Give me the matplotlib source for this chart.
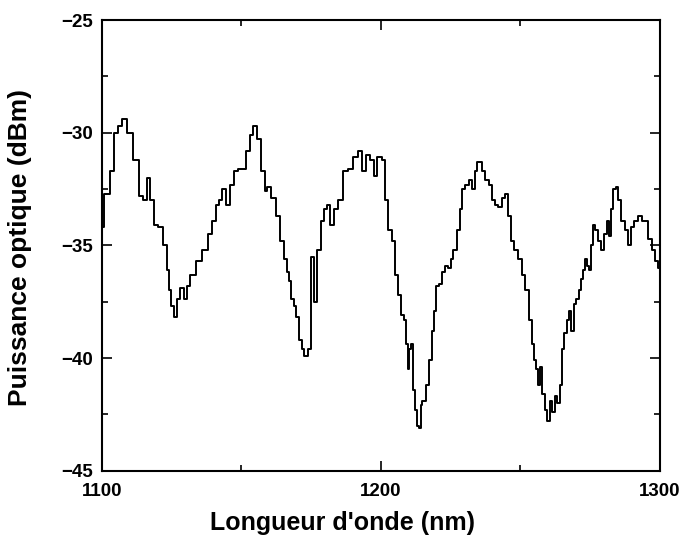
import matplotlib
matplotlib.use("Agg")
import matplotlib.pyplot as plt
from matplotlib.ticker import MultipleLocator

# Optical spectrum: wavelength (nm) and measured power (dBm)
wavelength_nm = [
    1100.0, 1101.9, 1103.7, 1105.1, 1106.6, 1108.0, 1110.1, 1112.3, 1114.4, 1115.5,
    1116.6, 1118.0, 1119.1, 1120.9, 1122.7, 1123.8, 1124.5, 1125.2, 1126.3, 1127.3,
    1128.8, 1129.9, 1130.9, 1132.7, 1134.5, 1137.0, 1138.8, 1140.2, 1141.6, 1142.4,
    1143.8, 1145.2, 1146.7, 1147.8, 1149.6, 1151.0, 1152.4, 1153.5, 1154.9, 1156.7,
    1157.8, 1158.9, 1159.9, 1161.4, 1163.2, 1164.6, 1165.7, 1166.8, 1167.5, 1168.2,
    1169.3, 1170.0, 1171.1, 1172.1, 1173.2, 1174.3, 1175.4, 1176.5, 1177.9, 1179.0,
    1180.0, 1181.1, 1182.5, 1184.0, 1185.4, 1187.2, 1189.0, 1190.8, 1192.6, 1193.7,
    1195.4, 1196.9, 1197.9, 1199.7, 1201.2, 1201.9, 1203.3, 1204.4, 1205.8, 1206.9,
    1207.9, 1208.7, 1209.4, 1209.8, 1210.5, 1211.2, 1211.9, 1212.6, 1213.4, 1214.1,
    1214.4, 1215.5, 1216.6, 1217.7, 1218.7, 1219.5, 1220.2, 1221.3, 1222.3, 1223.4,
    1224.8, 1225.5, 1226.6, 1227.7, 1228.8, 1229.5, 1230.9, 1232.0, 1233.1, 1234.2,
    1234.9, 1235.6, 1236.7, 1238.1, 1239.2, 1240.3, 1241.4, 1242.8, 1243.9, 1245.0,
    1246.1, 1247.2, 1248.6, 1250.0, 1251.2, 1252.5, 1253.6, 1254.7, 1255.4, 1256.1,
    1256.8, 1257.5, 1258.2, 1259.3, 1260.0, 1261.1, 1261.8, 1262.9, 1263.6, 1264.7,
    1265.4, 1266.1, 1267.1, 1267.9, 1268.6, 1269.6, 1270.7, 1271.4, 1272.1, 1272.8,
    1273.5, 1274.2, 1274.9, 1275.6, 1276.3, 1277.4, 1278.5, 1279.5, 1280.6, 1281.3,
    1282.0, 1282.7, 1283.8, 1284.5, 1285.6, 1286.7, 1288.1, 1289.2, 1290.3, 1291.4,
    1292.9, 1294.0, 1295.1, 1296.5, 1297.6, 1299.0, 1300.0,
]
power_dbm = [
    -34.2, -32.7, -31.7, -30.0, -29.7, -29.4, -30.0, -31.2, -32.8, -33.0,
    -32.0, -33.0, -34.1, -34.2, -35.0, -36.1, -37.0, -37.7, -38.2, -37.4,
    -36.9, -37.4, -36.8, -36.3, -35.7, -35.2, -34.5, -33.9, -33.2, -33.0,
    -32.5, -33.2, -32.3, -31.7, -31.6, -31.6, -30.8, -30.1, -29.7, -30.3,
    -31.7, -32.6, -32.4, -32.9, -33.7, -34.8, -35.6, -36.2, -36.6, -37.4,
    -37.7, -38.2, -39.2, -39.6, -39.9, -39.6, -35.5, -37.5, -35.2, -33.9,
    -33.4, -33.2, -34.1, -33.4, -33.0, -31.7, -31.6, -31.1, -30.8, -31.7,
    -31.0, -31.2, -31.9, -31.1, -31.2, -33.0, -34.3, -34.8, -36.3, -37.2,
    -38.1, -38.3, -39.4, -40.5, -39.6, -39.4, -41.4, -42.3, -43.0, -43.1,
    -42.1, -41.9, -41.2, -40.1, -38.8, -37.9, -36.8, -36.7, -36.2, -35.9,
    -36.0, -35.6, -35.2, -34.3, -33.4, -32.5, -32.3, -32.1, -32.5, -31.7,
    -31.3, -31.3, -31.7, -32.1, -32.3, -33.0, -33.2, -33.3, -32.9, -32.7,
    -33.7, -34.8, -35.2, -35.6, -36.3, -37.0, -38.3, -39.4, -40.1, -40.5,
    -41.2, -40.4, -41.6, -42.3, -42.8, -41.9, -42.4, -41.7, -42.0, -41.2,
    -39.6, -38.9, -38.3, -37.9, -38.8, -37.6, -37.4, -37.0, -36.5, -36.1,
    -35.6, -35.9, -36.1, -35.0, -34.1, -34.3, -34.8, -35.2, -34.5, -33.9,
    -34.6, -33.4, -32.5, -32.4, -33.0, -33.9, -34.3, -35.0, -34.2, -33.9,
    -33.7, -33.9, -33.9, -34.7, -35.2, -35.7, -36.0,
]

x_ticks = [1100, 1200, 1300]
y_ticks = [-45, -40, -35, -30, -25]

fig = plt.figure(figsize=(6.83, 5.42), dpi=100)
ax = fig.add_axes([0.149, 0.1316, 0.817, 0.8314])

ax.plot(wavelength_nm, power_dbm, color="black", linewidth=1.4,
        drawstyle="steps-mid")

ax.set_xlim(1100, 1300)
ax.set_ylim(-45, -25)
ax.set_xticks(x_ticks)
ax.set_yticks(y_ticks)
ax.xaxis.set_minor_locator(MultipleLocator(50))
ax.yaxis.set_minor_locator(MultipleLocator(2.5))

ax.tick_params(which="both", direction="in", top=True, right=True,
               width=1.2, color="black")
ax.tick_params(which="major", length=7)
ax.tick_params(which="minor", length=4)
ax.tick_params(axis="both", labelsize=13.5)
ax.tick_params(axis="y", pad=6)
ax.tick_params(axis="x", pad=9)
for lbl in ax.get_xticklabels() + ax.get_yticklabels():
    lbl.set_fontweight("bold")
    lbl.set_family("Liberation Sans")

for sp in ax.spines.values():
    sp.set_linewidth(1.5)

ax.set_xlabel("Longueur d'onde (nm)", fontsize=18, fontweight="bold",
              family="Liberation Sans", va="center")
ax.set_ylabel("Puissance optique (dBm)", fontsize=19, fontweight="bold",
              family="Liberation Sans", va="center")
ax.xaxis.set_label_coords(0.432, -0.116)
ax.yaxis.set_label_coords(-0.146, 0.495)

fig.savefig("out.png", dpi=100)
